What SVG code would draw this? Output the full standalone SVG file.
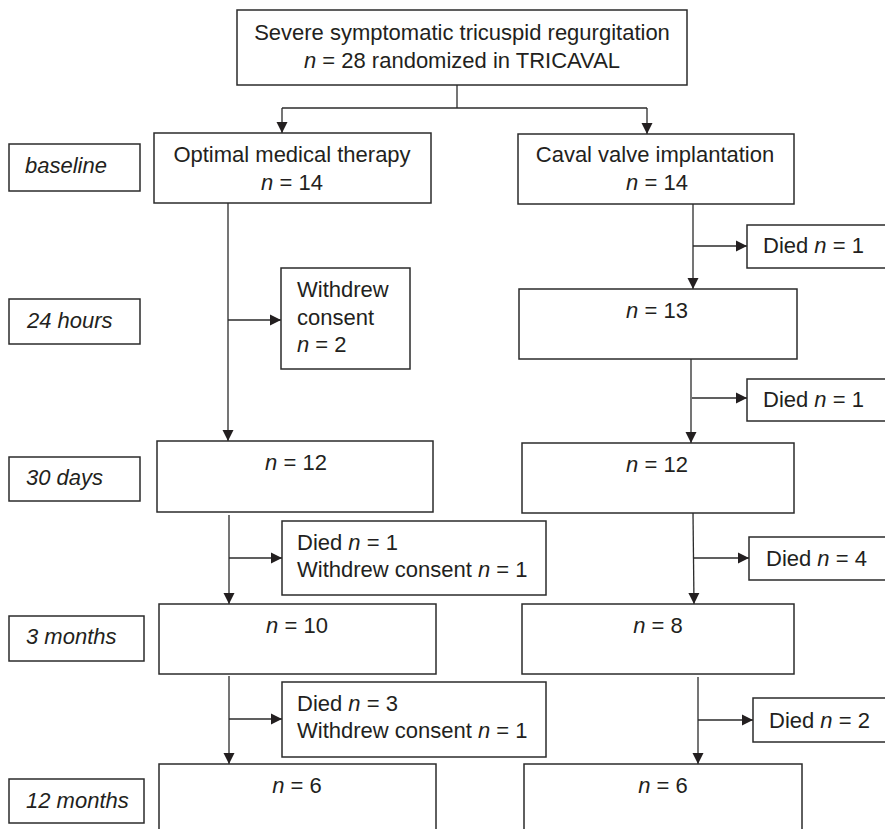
<svg xmlns="http://www.w3.org/2000/svg" width="885" height="829" viewBox="0 0 885 829">
<defs>
<style>
.box{fill:#fff;stroke:#2b2b2b;stroke-width:1.5}
.ln{fill:none;stroke:#2b2b2b;stroke-width:1.3}
.ar{fill:none;stroke:#2b2b2b;stroke-width:1.3;marker-end:url(#ah)}
text{font-family:"Liberation Sans",Arial,sans-serif;font-size:22px;fill:#231f20}
.c{text-anchor:middle}
.it{font-style:italic}
</style>
<marker id="ah" markerUnits="userSpaceOnUse" markerWidth="12" markerHeight="12" refX="11" refY="6" orient="auto" viewBox="0 0 12 12">
<path d="M0,0.5 L11,6 L0,11.5 z" fill="#231f20"/>
</marker>
</defs>
<rect width="885" height="829" fill="#fff"/>

<g id="connectors">
<polyline class="ln" points="457,85 457,108"/>
<polyline class="ln" points="282,108 647,108"/>
<line class="ar" x1="282" y1="108" x2="282" y2="133"/>
<line class="ar" x1="647" y1="108" x2="647" y2="134"/>

<line class="ar" x1="228" y1="203" x2="228" y2="441"/>
<line class="ar" x1="228" y1="320" x2="281" y2="320"/>

<line class="ar" x1="693" y1="204" x2="693" y2="289"/>
<line class="ar" x1="693" y1="246" x2="747" y2="246"/>
<line class="ar" x1="691" y1="359" x2="691" y2="443"/>
<line class="ar" x1="692" y1="398" x2="747" y2="398"/>

<line class="ar" x1="229" y1="515" x2="229" y2="604"/>
<line class="ar" x1="229" y1="558" x2="282" y2="558"/>
<line class="ar" x1="693" y1="513" x2="694" y2="604"/>
<line class="ar" x1="694" y1="558" x2="749" y2="558"/>

<line class="ar" x1="229" y1="676" x2="229" y2="764"/>
<line class="ar" x1="229" y1="719" x2="282" y2="719"/>
<line class="ar" x1="698" y1="677" x2="698" y2="764"/>
<line class="ar" x1="698" y1="720" x2="753" y2="720"/>
</g>

<g id="top">
<rect class="box" x="237" y="10" width="450" height="75"/>
<text class="c" x="462" y="40">Severe symptomatic tricuspid regurgitation</text>
<text class="c" x="462" y="68"><tspan class="it">n</tspan> = 28 randomized in TRICAVAL</text>
</g>

<g id="label-baseline">
<rect class="box" x="9" y="144" width="131" height="47"/>
<text class="it" x="25" y="173">baseline</text>
</g>
<g id="label-24h">
<rect class="box" x="9" y="299" width="131" height="45"/>
<text class="it" x="27" y="328">24 hours</text>
</g>
<g id="label-30d">
<rect class="box" x="9" y="457" width="131" height="44"/>
<text class="it" x="26" y="485">30 days</text>
</g>
<g id="label-3m">
<rect class="box" x="9" y="616" width="135" height="45"/>
<text class="it" x="26" y="644">3 months</text>
</g>
<g id="label-12m">
<rect class="box" x="9" y="779" width="135" height="44"/>
<text class="it" x="26" y="808">12 months</text>
</g>

<g id="omt-baseline">
<rect class="box" x="154" y="133" width="277" height="70"/>
<text class="c" x="292" y="162">Optimal medical therapy</text>
<text class="c" x="292" y="190"><tspan class="it">n</tspan> = 14</text>
</g>
<g id="cvi-baseline">
<rect class="box" x="518" y="134" width="276" height="70"/>
<text class="c" x="655" y="162">Caval valve implantation</text>
<text class="c" x="657" y="190"><tspan class="it">n</tspan> = 14</text>
</g>

<g id="omt-withdrew-24h">
<rect class="box" x="281" y="268" width="129" height="101"/>
<text x="297" y="297">Withdrew</text>
<text x="297" y="325">consent</text>
<text x="297" y="352"><tspan class="it">n</tspan> = 2</text>
</g>
<g id="cvi-died-24h">
<rect class="box" x="747" y="225" width="160" height="43"/>
<text x="763" y="253">Died <tspan class="it">n</tspan> = 1</text>
</g>
<g id="cvi-24h">
<rect class="box" x="519" y="289" width="278" height="70"/>
<text class="c" x="657" y="318"><tspan class="it">n</tspan> = 13</text>
</g>
<g id="cvi-died-30d">
<rect class="box" x="747" y="379" width="160" height="42"/>
<text x="763" y="407">Died <tspan class="it">n</tspan> = 1</text>
</g>

<g id="omt-30d">
<rect class="box" x="157" y="441" width="276" height="71"/>
<text class="c" x="296" y="470"><tspan class="it">n</tspan> = 12</text>
</g>
<g id="cvi-30d">
<rect class="box" x="522" y="443" width="272" height="70"/>
<text class="c" x="657" y="472"><tspan class="it">n</tspan> = 12</text>
</g>

<g id="omt-loss-3m">
<rect class="box" x="282" y="521" width="264" height="74"/>
<text x="297" y="550">Died <tspan class="it">n</tspan> = 1</text>
<text x="297" y="577">Withdrew consent <tspan class="it">n</tspan> = 1</text>
</g>
<g id="cvi-died-3m">
<rect class="box" x="749" y="537" width="160" height="43"/>
<text x="766" y="566">Died <tspan class="it">n</tspan> = 4</text>
</g>

<g id="omt-3m">
<rect class="box" x="159" y="604" width="277" height="70"/>
<text class="c" x="297" y="633"><tspan class="it">n</tspan> = 10</text>
</g>
<g id="cvi-3m">
<rect class="box" x="522" y="604" width="272" height="70"/>
<text class="c" x="658" y="633"><tspan class="it">n</tspan> = 8</text>
</g>

<g id="omt-loss-12m">
<rect class="box" x="282" y="682" width="264" height="75"/>
<text x="297" y="711">Died <tspan class="it">n</tspan> = 3</text>
<text x="297" y="738">Withdrew consent <tspan class="it">n</tspan> = 1</text>
</g>
<g id="cvi-died-12m">
<rect class="box" x="753" y="698" width="160" height="44"/>
<text x="769" y="728">Died <tspan class="it">n</tspan> = 2</text>
</g>

<g id="omt-12m">
<rect class="box" x="159" y="764" width="277" height="80"/>
<text class="c" x="297" y="793"><tspan class="it">n</tspan> = 6</text>
</g>
<g id="cvi-12m">
<rect class="box" x="524" y="764" width="278" height="80"/>
<text class="c" x="663" y="793"><tspan class="it">n</tspan> = 6</text>
</g>
</svg>
